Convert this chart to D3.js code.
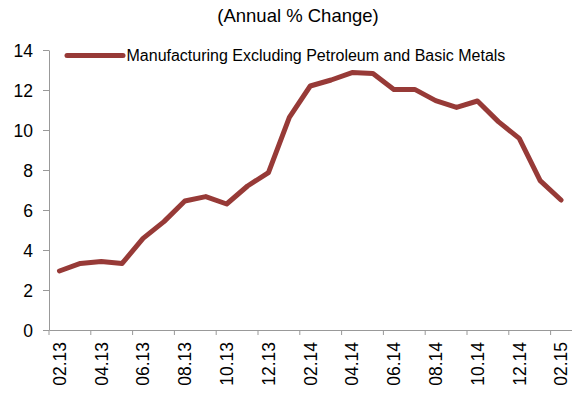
<!DOCTYPE html>
<html>
<head>
<meta charset="utf-8">
<script src="https://cdn.jsdelivr.net/npm/d3@7"></script>
<style>
  body { margin: 0; background: #fff; }
  svg text { font-family: "Liberation Sans", Arial, sans-serif; fill: #000; }
</style>
</head>
<body>
<div id="chart"></div>
<script>
// monthly categories 02.13 .. 02.15
const months = ["02.13","03.13","04.13","05.13","06.13","07.13","08.13","09.13","10.13","11.13","12.13","01.14",
                "02.14","03.14","04.14","05.14","06.14","07.14","08.14","09.14","10.14","11.14","12.14","01.15","02.15"]
const values = [2.95, 3.33, 3.42, 3.33, 4.58, 5.42, 6.45, 6.67, 6.3, 7.2, 7.87, 10.63,
                12.2, 12.5, 12.87, 12.83, 12.03, 12.03, 11.47, 11.13, 11.45, 10.42, 9.58, 7.47, 6.5]
const yTicks = [0, 2, 4, 6, 8, 10, 12, 14]
const seriesName = "Manufacturing Excluding Petroleum and Basic Metals"
const title = "(Annual % Change)"

const W = 582, H = 394
const lineColor = "#973a37"
const axisColor = "#999999"

const svg = d3.select("#chart").append("svg")
  .attr("width", W).attr("height", H)

const x = d3.scaleBand()
  .domain(months)
  .range([49, 571.5])

const y = d3.scaleLinear()
  .domain([0, 14])
  .range([330, 50])

// title
svg.append("text")
  .attr("x", 298).attr("y", 22)
  .attr("text-anchor", "middle")
  .style("font-size", "18.5px")
  .text(title)

// y axis
const yAxis = svg.append("g")
  .attr("transform", "translate(49,0)")
  .call(d3.axisLeft(y).tickValues(yTicks).tickSize(6).tickSizeOuter(0).tickPadding(10))
yAxis.select(".domain").attr("stroke", axisColor)
yAxis.selectAll(".tick line").attr("stroke", axisColor)
yAxis.selectAll(".tick text")
  .style("font-size", "17.5px")
  .attr("dy", "0.36em")

// x axis: labels at category centers, tick marks on every other boundary
const xAxis = svg.append("g")
  .attr("transform", "translate(0,330)")
  .call(d3.axisBottom(x)
        .tickValues(months.filter((d, i) => i % 2 === 0))
        .tickSize(0).tickSizeOuter(0))
xAxis.select(".domain").attr("stroke", axisColor)
xAxis.selectAll(".tick text")
  .attr("transform", "rotate(-90)")
  .attr("x", -12).attr("y", 0).attr("dy", "0.36em")
  .style("text-anchor", "end")
  .style("font-size", "17.5px")

svg.append("g")
  .selectAll("line")
  .data(months.filter((d, i) => i % 2 === 0))
  .enter().append("line")
  .attr("x1", d => x(d)).attr("x2", d => x(d))
  .attr("y1", 330).attr("y2", 335)
  .attr("stroke", axisColor)

// series line
svg.append("path")
  .datum(values)
  .attr("fill", "none")
  .attr("stroke", lineColor)
  .attr("stroke-width", 5)
  .attr("stroke-linejoin", "round")
  .attr("stroke-linecap", "round")
  .attr("d", d3.line()
    .x((d, i) => x(months[i]) + x.bandwidth() / 2)
    .y(d => y(d)))

// legend
const legend = svg.append("g")
legend.append("line")
  .attr("x1", 67).attr("x2", 123)
  .attr("y1", 55.5).attr("y2", 55.5)
  .attr("stroke", lineColor)
  .attr("stroke-width", 5)
  .attr("stroke-linecap", "round")
legend.append("text")
  .attr("x", 126.5).attr("y", 55.5)
  .attr("dy", "0.36em")
  .style("font-size", "16px")
  .text(seriesName)
</script>
</body>
</html>
